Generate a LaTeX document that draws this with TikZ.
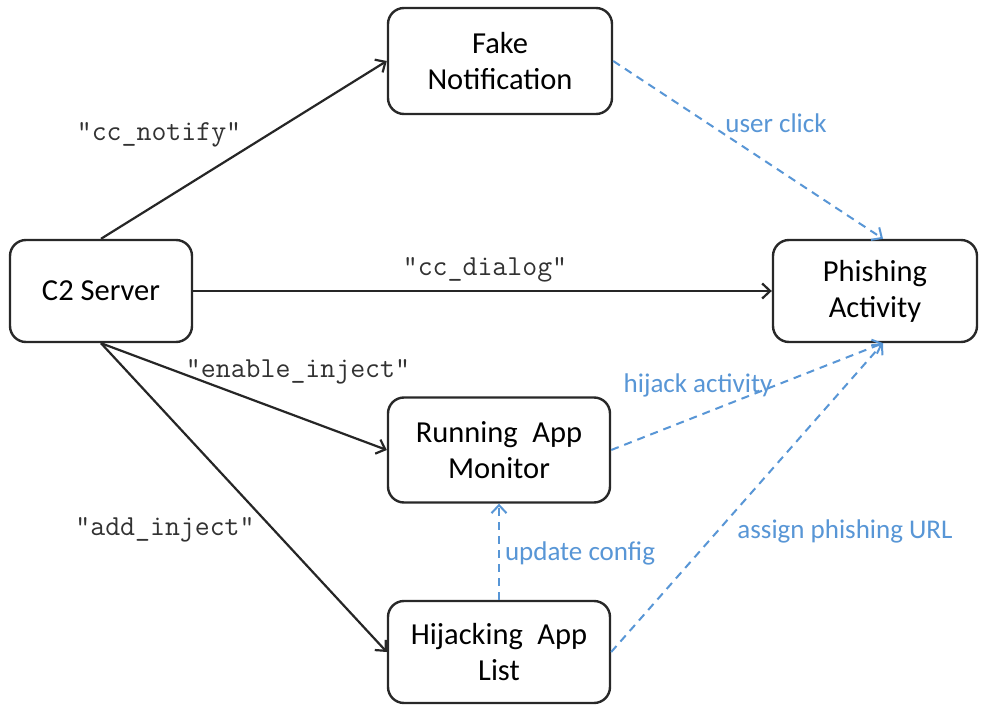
\documentclass[tikz,border=0pt]{standalone}
\usepackage{fontspec}
\setmainfont{Carlito}
\usetikzlibrary{arrows.meta}
\definecolor{linkblue}{RGB}{88,150,214}
\definecolor{boxgray}{RGB}{40,40,40}
\definecolor{codegray}{RGB}{50,50,50}

\begin{document}
\begin{tikzpicture}[x=1pt,y=-1pt,
  box/.style={draw=boxgray, line width=2.4pt, rounded corners=16pt,
    align=center, inner sep=0pt, font=\fontsize{30.5}{36}\selectfont},
  conn/.style={draw=black!85, line width=2.2pt,
    -{Straight Barb[length=8pt,width=15pt]}},
  flow/.style={draw=linkblue, line width=2pt, dash pattern=on 8pt off 6pt,
    -{Straight Barb[length=8pt,width=15pt]}},
  code/.style={text=codegray, inner sep=0pt,
    font=\ttfamily\fontsize{29}{34}\selectfont},
  note/.style={text=linkblue, inner sep=0pt,
    font=\fontsize{27}{32}\selectfont}]

\useasboundingbox (0,0) rectangle (986,708);
\fill[white] (0,0) rectangle (986,708);

% boxes
\node[box, minimum width=224pt, minimum height=106pt] (fake)  at (500,61)
  {Fake\\Notification};
\node[box, minimum width=182pt, minimum height=102pt] (c2)    at (101,291)
  {C2 Server};
\node[box, minimum width=204pt, minimum height=102pt] (phish) at (875,291)
  {Phishing\\Activity};
\node[box, minimum width=222pt, minimum height=105pt] (ram)   at (499,450)
  {Running\hspace{0.25em} App\\Monitor};
\node[box, minimum width=222pt, minimum height=102pt] (hal)   at (499,652)
  {Hijacking\hspace{0.25em} App\\List};

% commands from the C2 server
\draw[conn] (c2.north) -- (fake.west);
\draw[conn] (c2.east) -- (phish.west);
\draw[conn] (c2.south) -- (ram.west);
\draw[conn] (c2.south) -- (hal.west);

\node[code] (lnotify) at (159,135) {"cc\_notify"};
\node[code] (ldialog) at (485,270) {"cc\_dialog"};
\node[code] (lenable) at (298,372) {"enable\_inject"};
\node[code] (ladd)    at (165,530) {"add\_inject"};

% client-side flows
\draw[flow] (fake.east) -- ([xshift=8pt]phish.north);
\draw[flow] (ram.east) -- ([xshift=8pt]phish.south);
\draw[flow] (hal.east) -- ([xshift=8pt]phish.south);
\draw[flow] (hal.north) -- (ram.south);

\node[note] (lclick)  at (776,123) {user click};
\node[note] (lhijack) at (698,385) {hijack activity};
\node[note] (lupdate) at (580,553) {update config};
\node[note] (lassign) at (845,531) {assign phishing URL};
\end{tikzpicture}
\end{document}
